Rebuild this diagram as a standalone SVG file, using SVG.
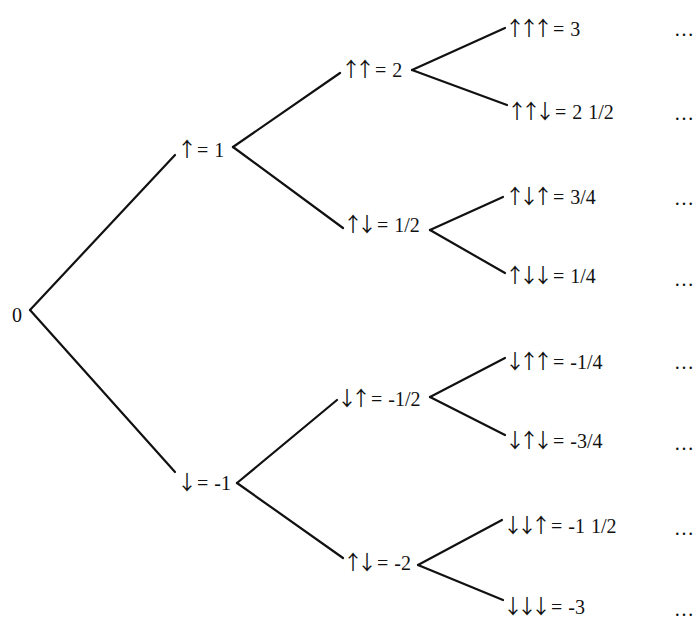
<svg xmlns="http://www.w3.org/2000/svg" width="697" height="623" viewBox="0 0 697 623">
<style>
text { font-family: "Liberation Serif", "Times New Roman", serif; font-size: 20px; fill: #111; word-spacing: 1px; }
.a { font-family: "Noto Sans CJK JP", "DejaVu Sans", sans-serif; font-size: 20px; letter-spacing: -6px; }
.e { stroke: #111; stroke-width: 2.2; fill: none; stroke-linecap: round; }
.d { letter-spacing: 1px; }
</style>
<rect width="697" height="623" fill="#fff"/>
<g id="connectors">
<line class="e" x1="30" y1="310" x2="175" y2="155"/>
<line class="e" x1="30" y1="310" x2="175" y2="472"/>
<line class="e" x1="233" y1="147" x2="340" y2="73"/>
<line class="e" x1="233" y1="147" x2="343" y2="228"/>
<line class="e" x1="412" y1="70" x2="505" y2="28"/>
<line class="e" x1="412" y1="70" x2="507" y2="105"/>
<line class="e" x1="430" y1="230" x2="503" y2="197"/>
<line class="e" x1="430" y1="230" x2="505" y2="273"/>
<line class="e" x1="237" y1="483" x2="337" y2="400"/>
<line class="e" x1="237" y1="483" x2="343" y2="558"/>
<line class="e" x1="430" y1="397" x2="505" y2="358"/>
<line class="e" x1="430" y1="397" x2="505" y2="435"/>
<line class="e" x1="418" y1="565" x2="502" y2="520"/>
<line class="e" x1="418" y1="565" x2="503" y2="600"/>
</g>
<g id="n0"><text x="12" y="322">0</text></g>
<g id="n-u"><text x="177" y="157"><tspan class="a">↑</tspan> = 1</text></g>
<g id="n-d"><text x="177" y="490"><tspan class="a">↓</tspan> = -1</text></g>
<g id="n-uu"><text x="341" y="77"><tspan class="a">↑↑</tspan> = 2</text></g>
<g id="n-ud"><text x="343" y="232"><tspan class="a">↑↓</tspan> = 1/2</text></g>
<g id="n-du"><text x="337" y="406"><tspan class="a">↓↑</tspan> = -1/2</text></g>
<g id="n-dd"><text x="343" y="570"><tspan class="a">↑↓</tspan> = -2</text></g>
<g id="n-uuu"><text x="505" y="36"><tspan class="a">↑↑↑</tspan> = 3</text></g>
<g id="n-uud"><text x="507" y="119"><tspan class="a">↑↑↓</tspan> = 2 1/2</text></g>
<g id="n-udu"><text x="505" y="204"><tspan class="a">↑↓↑</tspan> = 3/4</text></g>
<g id="n-udd"><text x="505" y="283"><tspan class="a">↑↓↓</tspan> = 1/4</text></g>
<g id="n-duu"><text x="505" y="369"><tspan class="a">↓↑↑</tspan> = -1/4</text></g>
<g id="n-dud"><text x="505" y="448"><tspan class="a">↓↑↓</tspan> = -3/4</text></g>
<g id="n-ddu"><text x="503" y="533"><tspan class="a">↓↓↑</tspan> = -1 1/2</text></g>
<g id="n-ddd"><text x="503" y="614"><tspan class="a">↓↓↓</tspan> = -3</text></g>
<g id="more">
<text class="d" x="674" y="36">…</text>
<text class="d" x="674" y="120">…</text>
<text class="d" x="674" y="205">…</text>
<text class="d" x="674" y="286">…</text>
<text class="d" x="674" y="369">…</text>
<text class="d" x="674" y="450">…</text>
<text class="d" x="674" y="535">…</text>
<text class="d" x="674" y="616">…</text>
</g>
</svg>
